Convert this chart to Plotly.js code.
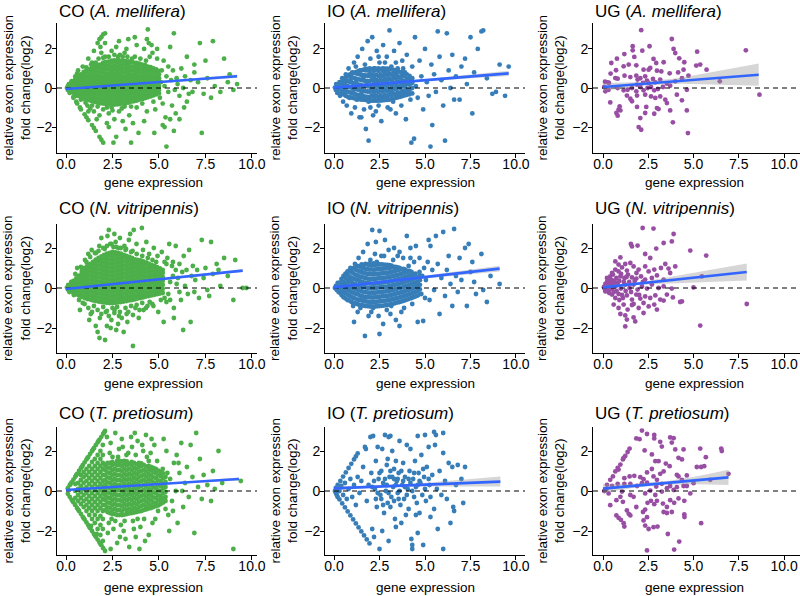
<!DOCTYPE html>
<html><head><meta charset="utf-8">
<script src="https://cdn.plot.ly/plotly-3.0.1.min.js"></script>
<style>html,body{margin:0;padding:0;background:#fff}#chart{width:800px;height:596px}</style>
</head><body><div id="chart"></div>
<script>
// ---------- data ----------
const panelTitles = ["CO (<i>A. mellifera</i>)","IO (<i>A. mellifera</i>)","UG (<i>A. mellifera</i>)",
  "CO (<i>N. vitripennis</i>)","IO (<i>N. vitripennis</i>)","UG (<i>N. vitripennis</i>)",
  "CO (<i>T. pretiosum</i>)","IO (<i>T. pretiosum</i>)","UG (<i>T. pretiosum</i>)"];
const xTickVals = [0,2.5,5,7.5,10];
const yTickVals = [-2,0,2];
const xTitle = "gene expression";
const yTitle = "relative exon expression<br>fold change(log2)";

// scattered points [expression, fold change]
const coAm = [[0.05,0],[0.1,0.1],[0.1,-0.1],[0.15,0.2],[0.2,-0.2],[0.25,0.05],[0.3,-0.1],[0.35,0.25],[0.4,0.1],[0.45,-0.3],[0.5,0.4],[0.5,-0.1],[0.6,0.2],[0.6,-0.4],[0.7,0.5],[0.7,-0.2],[0.8,0.1],[0.8,-0.6],[0.9,0.6],[0.9,-0.3],
[0.2,0.15],[0.3,0.3],[0.4,-0.45],[0.5,0.6],[0.55,-0.7],[0.65,0.9],[0.75,-1.0],[0.85,0.3],[0.95,-0.15],[0.95,0.45],
[0.2,-0.25],[0.4,-0.5],[0.6,-0.8],[0.8,-1.1],[1.0,-1.35],[1.2,-1.65],[1.4,-1.9],[1.6,-2.2],[1.8,-2.5],[2.0,-2.8],[1.1,-1.5],[1.5,-2.05],[1.9,-2.65],
[0.3,0.35],[0.6,0.75],[0.9,1.1],[1.2,1.5],[1.5,1.9],[1.7,2.3],[1.9,2.6],[2.0,2.75],[2.1,2.8],[1.8,2.5],
[1.05,-0.75],[1.1,1.05],[1.15,-0.9],[1.35,1.2],[1.4,-0.9],[1.5,-1.2],[1.4,1.3],[1.2,-1.2],
[1.6,1.3],[1.7,-0.95],[1.75,1.5],[1.8,-1.4],[1.9,1.8],[2.0,-1.1],[1.65,-1.6],[1.85,2.1],
[2.1,1.6],[2.2,-1.0],[2.3,1.6],[2.3,-1.3],[2.45,1.9],[2.1,2.3],[2.3,-2.0],[2.2,-1.8],[2.45,-1.0],
[2.6,1.7],[2.7,2.1],[2.85,-1.2],[2.9,1.7],[2.6,-1.6],[2.7,-2.5],[2.55,-2.8],[2.85,2.4],
[3.05,1.6],[3.15,-0.95],[3.25,2.0],[3.3,1.6],[3.4,-1.4],[3.05,-1.7],[3.2,-2.1],[3.5,-2.8],[3.35,2.5],[3.15,1.8],
[3.55,1.5],[3.7,1.6],[3.8,-1.0],[3.8,2.2],[4.0,1.5],[3.6,-1.8],[3.9,-2.3],[3.7,2.6],
[4.1,-0.8],[4.2,2.0],[4.3,1.4],[4.35,-1.2],[4.4,3.0],[4.5,1.6],[4.2,-1.7],[4.35,2.5],[4.45,2.3],
[4.65,1.8],[4.7,-0.7],[4.8,-1.1],[4.9,1.5],[4.6,2.2],[4.75,-2.3],[4.9,2.0],[2.5,-1.15],[3.0,-1.05],[3.5,-0.95],[1.3,-1.05],[2.0,1.55],[2.8,1.6],
[5.05,-0.5],[5.1,0.3],[5.15,0.9],[5.2,-0.8],[5.25,1.4],[5.3,0.1],[5.35,-1.5],[5.4,0.6],[5.4,-3.0],[5.5,1.1],[5.5,-0.2],[5.6,2.1],[5.65,0.4],[5.7,-0.9],[5.75,0.9],[5.8,2.8],[5.85,-0.1],[5.9,-1.3],[5.95,0.5],[5.3,-2.0],[5.2,-1.9],[5.6,-1.6],[5.8,-2.2],
[6.0,0.2],[6.1,-0.4],[6.2,1.0],[6.3,0.0],[6.35,-1.0],[6.4,0.6],[6.5,1.6],[6.6,-0.3],[6.7,0.4],[6.8,-0.2],[6.9,1.2],[6.1,-1.6],[6.5,-0.7],[6.9,0.8],
[7.1,0.3],[7.2,2.3],[7.3,-2.3],[7.4,-0.3],[7.5,1.4],[7.6,0.5],[7.9,2.4],[8.0,0.1],[8.3,-0.2],[8.5,1.5],[8.7,0.3],[9.0,-0.1],[9.2,0.2],[7.8,-0.5],[8.8,0.7]];
// dense core: [expression, [fold changes at that expression]]
const coAmCore = [[0.35,[-0.2,0.0,0.2,0.3]],[0.5,[-0.3,-0.1,0.1,0.3,0.45]],[0.65,[-0.4,-0.2,0.0,0.2,0.4,0.58]],[0.8,[-0.48,-0.3,-0.1,0.1,0.3,0.5,0.7]],
[0.95,[-0.54,-0.35,-0.15,0.05,0.25,0.45,0.65,0.82]],[1.1,[-0.6,-0.4,-0.2,0.0,0.2,0.4,0.6,0.8,0.92]],[1.25,[-0.63,-0.45,-0.25,-0.05,0.15,0.35,0.55,0.75,0.95]],
[1.4,[-0.68,-0.5,-0.3,-0.1,0.1,0.3,0.5,0.7,0.9,1.05]],[1.55,[-0.72,-0.55,-0.35,-0.15,0.05,0.25,0.45,0.65,0.85,1.05,1.12]],[1.7,[-0.75,-0.55,-0.35,-0.15,0.05,0.25,0.45,0.65,0.85,1.05,1.18]],
[1.85,[-0.78,-0.6,-0.4,-0.2,0.0,0.2,0.4,0.6,0.8,1.0,1.2]],[2.0,[-0.8,-0.6,-0.4,-0.2,0.0,0.2,0.4,0.6,0.8,1.0,1.2,1.3]],[2.15,[-0.82,-0.65,-0.45,-0.25,-0.05,0.15,0.35,0.55,0.75,0.95,1.15,1.34]],
[2.3,[-0.84,-0.65,-0.45,-0.25,-0.05,0.15,0.35,0.55,0.75,0.95,1.15,1.35]],[2.45,[-0.85,-0.7,-0.5,-0.3,-0.1,0.1,0.3,0.5,0.7,0.9,1.1,1.3,1.4]],[2.6,[-0.85,-0.65,-0.45,-0.25,-0.05,0.15,0.35,0.55,0.75,0.95,1.15,1.35,1.42]],
[2.75,[-0.84,-0.7,-0.5,-0.3,-0.1,0.1,0.3,0.5,0.7,0.9,1.1,1.3,1.42]],[2.9,[-0.82,-0.65,-0.45,-0.25,-0.05,0.15,0.35,0.55,0.75,0.95,1.15,1.35,1.4]],[3.05,[-0.8,-0.6,-0.4,-0.2,0.0,0.2,0.4,0.6,0.8,1.0,1.2,1.4]],
[3.2,[-0.78,-0.6,-0.4,-0.2,0.0,0.2,0.4,0.6,0.8,1.0,1.2,1.38]],[3.35,[-0.75,-0.55,-0.35,-0.15,0.05,0.25,0.45,0.65,0.85,1.05,1.25,1.36]],[3.5,[-0.7,-0.5,-0.3,-0.1,0.1,0.3,0.5,0.7,0.9,1.1,1.3,1.35]],
[3.65,[-0.68,-0.5,-0.3,-0.1,0.1,0.3,0.5,0.7,0.9,1.1,1.3]],[3.8,[-0.65,-0.45,-0.25,-0.05,0.15,0.35,0.55,0.75,0.95,1.15,1.28]],[3.95,[-0.6,-0.4,-0.2,0.0,0.2,0.4,0.6,0.8,1.0,1.2,1.25]],
[4.1,[-0.57,-0.4,-0.2,0.0,0.2,0.4,0.6,0.8,1.0,1.2]],[4.25,[-0.52,-0.35,-0.15,0.05,0.25,0.45,0.65,0.85,1.05,1.17]],[4.4,[-0.48,-0.3,-0.1,0.1,0.3,0.5,0.7,0.9,1.1]],
[4.55,[-0.43,-0.25,-0.05,0.15,0.35,0.55,0.75,0.95,1.07]],[4.7,[-0.38,-0.2,0.0,0.2,0.4,0.6,0.8,1.0]],[4.85,[-0.33,-0.15,0.05,0.25,0.45,0.65,0.85,0.95]],[5.0,[-0.28,-0.1,0.1,0.3,0.5,0.7,0.88]]];

const ioAm = [[0.05,0.02],[0.1,-0.1],[0.12,0.2],[0.18,-0.25],[0.22,0.1],[0.25,-0.05],[0.3,0.3],[0.33,-0.4],[0.38,0.15],[0.42,-0.15],[0.45,0.5],[0.5,-0.7],[0.55,0.25],[0.6,-0.3],[0.65,0.7],[0.7,-0.9],[0.75,0.1],[0.8,1.0],[0.85,-0.5],[0.9,0.4],[0.95,-1.3],[1.0,0.8],[1.05,-0.2],[1.1,1.3],[1.15,-1.0],[1.2,0.3],[1.25,-0.6],[1.3,1.6],[1.35,0.0],[1.4,-1.5],[1.45,0.9],[1.5,-0.3],[1.55,2.0],[1.6,0.5],[1.65,-1.1],[1.7,1.2],[1.75,-2.1],[1.8,0.2],[1.85,2.4],[1.9,-0.7],[1.95,0.7],[1.9,-2.7],[2.0,1.5],[2.05,-0.1],[2.1,2.6],[2.15,-1.4],[2.2,0.5],[2.25,1.0],[2.3,-0.4],[2.35,1.9],[2.4,0.2],[2.45,-0.9],[2.5,1.3],[2.55,0.6],[2.6,-1.7],[2.65,0.0],[2.7,2.2],[2.75,0.9],[2.8,-0.5],[2.85,0.4],[2.9,1.6],[2.95,-1.0],[3.0,0.7],[3.05,2.95],[3.1,-0.2],[3.15,1.1],[3.2,0.3],[3.25,-0.7],[3.3,1.9],[3.35,0.6],[3.4,-1.3],[3.45,0.1],[3.5,1.0],[3.55,-0.4],[3.6,2.3],[3.65,0.5],[3.7,-0.9],[3.75,1.4],[3.8,0.2],[3.85,-0.2],[3.9,0.8],[3.95,-1.6],[4.0,1.7],[4.1,0.4],[4.2,-0.6],[4.25,-2.8],[4.3,1.1],[4.4,-2.6],[4.45,2.6],[4.5,0.1],[4.6,-0.5],[4.7,1.4],[4.8,0.6],[4.9,-1.1],[5.0,2.0],[5.1,0.3],[5.2,-0.4],[5.3,-3.0],[5.35,1.2],[5.4,-1.9],[5.5,0.7],[5.6,-0.2],[5.7,2.9],[5.8,1.6],[5.9,0.4],[6.0,-0.9],[6.1,-2.7],[6.2,2.8],[6.3,0.9],[6.4,0.0],[6.5,1.7],[6.6,-0.6],[6.7,0.6],[6.9,-0.6],[7.0,1.1],[7.2,1.5],[7.3,0.2],[7.5,2.6],[7.6,-1.3],[7.7,0.8],[7.9,2.0],[8.1,2.9],[8.2,2.95],[8.4,0.5],[8.7,-0.3],[8.9,-0.2],[9.1,1.2],[9.4,-0.4],[9.6,1.1],
[2.45,1.6],[2.0,-1.0],[1.2,1.1],[3.8,1.0],[4.0,-0.2],[1.5,-1.5],[2.3,-1.2],[3.1,-1.1],[2.8,1.3],[3.4,1.3]];
const ioAmCore = [[0.4,[-0.24,0.03,0.29]],[0.52,[-0.33,-0.06,0.21,0.44]],[0.64,[-0.4,-0.13,0.14,0.41,0.55]],[0.76,[-0.45,-0.19,0.08,0.35,0.62]],[0.88,[-0.48,-0.23,0.04,0.31,0.58,0.7]],
[1.0,[-0.5,-0.27,0.0,0.27,0.54,0.76]],[1.12,[-0.53,-0.3,-0.03,0.24,0.51,0.78]],[1.24,[-0.55,-0.34,-0.07,0.2,0.47,0.74,0.83]],[1.36,[-0.57,-0.37,-0.1,0.17,0.44,0.71,0.87]],[1.48,[-0.59,-0.4,-0.13,0.14,0.41,0.68,0.9]],
[1.6,[-0.6,-0.42,-0.15,0.12,0.39,0.66,0.93]],[1.72,[-0.61,-0.44,-0.17,0.1,0.37,0.64,0.91,0.96]],[1.84,[-0.63,-0.45,-0.18,0.09,0.36,0.63,0.9,0.98]],[1.96,[-0.64,-0.46,-0.19,0.08,0.35,0.62,0.89,1.0]],[2.08,[-0.65,-0.38,-0.11,0.16,0.43,0.7,0.97]],
[2.2,[-0.65,-0.47,-0.2,0.07,0.34,0.61,0.88,1.0]],[2.32,[-0.65,-0.39,-0.12,0.15,0.42,0.69,0.96]],[2.44,[-0.64,-0.47,-0.2,0.07,0.34,0.61,0.88,1.0]],[2.56,[-0.64,-0.38,-0.11,0.16,0.43,0.7,0.97]],[2.68,[-0.63,-0.46,-0.19,0.08,0.35,0.62,0.89,1.0]],
[2.8,[-0.62,-0.36,-0.09,0.18,0.45,0.72,0.99]],[2.92,[-0.61,-0.44,-0.17,0.1,0.37,0.64,0.91,0.99]],[3.04,[-0.6,-0.33,-0.06,0.21,0.48,0.75,0.98]],[3.16,[-0.57,-0.4,-0.13,0.14,0.41,0.68,0.95]],[3.28,[-0.54,-0.28,-0.01,0.26,0.53,0.8,0.93]],
[3.4,[-0.51,-0.34,-0.07,0.2,0.47,0.74,0.9]],[3.52,[-0.48,-0.22,0.05,0.32,0.59,0.86]],[3.64,[-0.45,-0.27,0.0,0.27,0.54,0.81]],[3.76,[-0.41,-0.15,0.12,0.39,0.66,0.8]],[3.88,[-0.38,-0.2,0.07,0.34,0.61,0.76]],
[4.0,[-0.35,-0.08,0.19,0.46,0.7]],[4.15,[-0.32,-0.1,0.17,0.44,0.62]],[4.3,[-0.28,0.0,0.27,0.5]]];

const ugAm = [[2.11,2.96],[1.64,2.14],[1.64,1.93],[1.18,1.74],[0.77,1.5],[0.46,1.28],[2.57,2.14],[2.17,1.91],[3.8,2.51],[3.9,2.0],[3.99,1.79],[7.89,1.93],[5.2,1.86],[1.73,1.59],[2.79,1.49],[2.94,1.28],[1.14,1.11],[1.42,1.2],[1.84,1.16],[2.24,0.94],[2.61,1.03],[2.98,0.89],[3.35,1.32],[4.21,1.52],[4.49,1.32],[5.37,1.2],[5.15,1.15],[5.72,0.94],[4.45,0.94],[4.15,0.8],[3.68,0.75],[3.22,0.85],[0.72,0.91],[0.42,0.74],[0.11,0.32],[0.26,0.29],[0.33,0.26],[0.68,0.51],[0.81,0.48],[1.19,0.63],[1.51,0.56],[1.84,0.63],[1.91,0.43],[2.06,0.5],[2.33,0.6],[2.43,0.38],[2.52,0.26],[2.76,0.46],[2.89,0.29],[3.16,0.43],[3.53,0.22],[3.99,0.34],[4.36,0.5],[4.72,0.63],[6.45,0.34],[0.07,0.05],[0.18,-0.05],[0.13,-0.17],[0.31,-0.09],[0.81,0.0],[1.14,-0.12],[1.36,-0.09],[1.6,0.0],[1.84,-0.17],[2.06,0.05],[2.24,-0.12],[2.46,0.0],[2.65,0.05],[2.83,-0.12],[3.03,-0.05],[1.88,-0.39],[2.33,-0.34],[2.65,-0.43],[2.89,-0.51],[3.16,-0.43],[3.44,-0.6],[4.08,-0.34],[4.36,-0.63],[0.4,-0.74],[0.92,-0.94],[0.86,-1.11],[0.96,-1.15],[0.74,-1.28],[0.81,-1.42],[1.88,-0.97],[2.39,-0.97],[2.98,-1.03],[3.07,-1.08],[2.33,-1.28],[2.83,-1.32],[3.71,-1.15],[4.63,-1.15],[2.06,-1.54],[3.86,-1.76],[1.97,-2.0],[2.11,-2.14],[4.69,-2.31],[8.64,-0.34],[1.6,-0.68],[1.51,-0.55],[1.32,-0.39],[3.53,-0.77],[1.88,0.17],[2.21,0.26],[3.31,0.05],[3.71,0.12],[4.63,-0.09],[2.52,0.94]];
const ugAmCore = [];

const coNv = [[0.05,0.02],[0.1,-0.08],[0.12,0.15],[0.18,-0.2],[0.22,0.1],[0.28,0.3],[0.3,-0.12],[0.35,0.05],[0.42,-0.35],[0.5,0.7],[0.8,1.05],[0.7,-0.6],[0.9,-0.75],
[0.6,1.0],[0.75,-1.1],[1.02,1.4],[1.2,1.7],[1.33,-1.3],[1.25,-1.6],[1.38,1.9],[1.61,1.75],[1.79,2.1],[1.82,-1.5],[1.8,-2.5],[1.7,-2.2],[1.6,-1.9],[1.9,2.5],
[2.08,1.95],[2.14,-1.2],[2.23,2.6],[2.38,2.2],[2.44,-1.6],[2.1,-2.6],[2.3,2.9],[2.4,-2.0],[2.2,-1.9],
[2.55,2.05],[2.61,-1.1],[2.67,2.3],[2.82,2.0],[2.85,-1.4],[2.6,2.7],[2.8,-1.8],[2.7,-2.1],[2.9,2.5],
[3.14,2.1],[3.26,-1.3],[3.23,1.95],[3.38,2.4],[3.3,-1.7],[3.1,-2.2],[3.45,2.7],
[3.58,1.85],[3.6,-2.9],[3.64,2.9],[3.73,-1.0],[3.79,2.2],[3.91,-1.5],[4.08,3.0],[4.14,1.9],[4.17,-1.1],[4.32,2.3],[4.38,-0.9],[4.47,1.7],
[4.64,-0.8],[4.72,2.0],[4.92,1.6],[4.96,-1.2],
[1.0,-0.8],[1.2,-1.0],[1.4,-1.2],[1.5,-0.9],[1.7,-1.1],[1.9,-1.3],[2.0,-0.95],[2.2,-1.15],[2.3,-1.4],[2.5,-1.0],[2.6,-1.25],[2.75,-0.95],[2.9,-1.2],[3.0,-1.5],[3.2,-1.0],[3.35,-1.2],[3.5,-0.9],[3.6,-1.35],[3.8,-0.85],[3.95,-1.1],[4.1,-0.75],[4.3,-1.0],[4.5,-0.7],[4.7,-0.9],
[1.1,1.3],[1.3,1.55],[1.55,1.75],[1.75,1.85],[2.0,2.0],[2.2,2.1],[2.45,2.2],[2.7,2.05],[2.95,2.0],[3.2,1.9],[3.5,1.8],[3.8,1.7],[4.1,1.6],[4.4,1.5],[4.65,1.4],[4.85,1.3],
[5.05,0.9],[5.1,-0.6],[5.15,1.8],[5.25,-1.7],[5.3,1.3],[5.4,-0.7],[5.45,1.5],[5.55,2.2],[5.6,-0.6],[5.75,1.3],[5.8,-1.0],[5.9,2.1],[5.8,-1.5],[5.3,-0.5],[5.5,-0.3],[5.7,1.1],[5.9,0.9],[6.1,-0.2],[5.4,1.2],[5.6,0.3],[5.75,0.6],[5.95,0.2],
[6.02,0.5],[6.1,1.2],[6.18,-0.6],[6.25,0.8],[6.3,-2.1],[6.33,1.6],[6.4,0.1],[6.48,0.9],[6.55,-0.3],[6.62,1.9],[6.7,-1.7],[6.75,0.6],[6.82,1.1],[6.9,-0.2],[6.95,0.4],
[7.05,0.9],[7.15,-0.5],[7.3,2.4],[7.4,0.5],[7.5,1.0],[7.6,-0.1],[7.8,2.3],[7.9,0.7],[8.1,1.2],[8.3,0.1],[8.5,1.5],[8.7,0.6],[9.0,-0.6],[9.1,1.4],[9.5,0.0],[9.7,0.0],[7.7,-0.4],[8.2,0.9]];
const coNvCore = [[0.4,[-0.25,-0.05,0.15,0.35]],[0.55,[-0.32,-0.12,0.08,0.28,0.48]],[0.7,[-0.38,-0.18,0.02,0.22,0.42,0.62]],[0.85,[-0.44,-0.24,-0.04,0.16,0.36,0.56,0.76,0.86]],
[1.0,[-0.5,-0.3,-0.1,0.1,0.3,0.5,0.7,0.9,1.0]],[1.15,[-0.55,-0.35,-0.15,0.05,0.25,0.45,0.65,0.85,1.05,1.12]],[1.3,[-0.58,-0.38,-0.18,0.02,0.22,0.42,0.62,0.82,1.02,1.2]],
[1.45,[-0.62,-0.42,-0.22,-0.02,0.18,0.38,0.58,0.78,0.98,1.18,1.3]],[1.6,[-0.65,-0.45,-0.25,-0.05,0.15,0.35,0.55,0.75,0.95,1.15,1.35,1.42]],[1.75,[-0.68,-0.48,-0.28,-0.08,0.12,0.32,0.52,0.72,0.92,1.12,1.32,1.5]],
[1.9,[-0.7,-0.5,-0.3,-0.1,0.1,0.3,0.5,0.7,0.9,1.1,1.3,1.5,1.58]],[2.05,[-0.72,-0.52,-0.32,-0.12,0.08,0.28,0.48,0.68,0.88,1.08,1.28,1.48,1.65]],[2.2,[-0.74,-0.55,-0.35,-0.15,0.05,0.25,0.45,0.65,0.85,1.05,1.25,1.45,1.65,1.72]],
[2.35,[-0.75,-0.58,-0.38,-0.18,0.02,0.22,0.42,0.62,0.82,1.02,1.22,1.42,1.62,1.76]],[2.5,[-0.75,-0.55,-0.35,-0.15,0.05,0.25,0.45,0.65,0.85,1.05,1.25,1.45,1.65,1.8]],[2.65,[-0.74,-0.58,-0.38,-0.18,0.02,0.22,0.42,0.62,0.82,1.02,1.22,1.42,1.62,1.78]],
[2.8,[-0.72,-0.52,-0.32,-0.12,0.08,0.28,0.48,0.68,0.88,1.08,1.28,1.48,1.68,1.75]],[2.95,[-0.7,-0.55,-0.35,-0.15,0.05,0.25,0.45,0.65,0.85,1.05,1.25,1.45,1.65,1.72]],[3.1,[-0.68,-0.48,-0.28,-0.08,0.12,0.32,0.52,0.72,0.92,1.12,1.32,1.52,1.66]],
[3.25,[-0.65,-0.5,-0.3,-0.1,0.1,0.3,0.5,0.7,0.9,1.1,1.3,1.5,1.6]],[3.4,[-0.62,-0.42,-0.22,-0.02,0.18,0.38,0.58,0.78,0.98,1.18,1.38,1.55]],[3.55,[-0.6,-0.45,-0.25,-0.05,0.15,0.35,0.55,0.75,0.95,1.15,1.35,1.5]],
[3.7,[-0.57,-0.37,-0.17,0.03,0.23,0.43,0.63,0.83,1.03,1.23,1.43]],[3.85,[-0.53,-0.4,-0.2,0.0,0.2,0.4,0.6,0.8,1.0,1.2,1.4]],[4.0,[-0.5,-0.3,-0.1,0.1,0.3,0.5,0.7,0.9,1.1,1.3,1.38]],
[4.15,[-0.47,-0.35,-0.15,0.05,0.25,0.45,0.65,0.85,1.05,1.25,1.33]],[4.3,[-0.43,-0.23,-0.03,0.17,0.37,0.57,0.77,0.97,1.17,1.28]],[4.45,[-0.4,-0.25,-0.05,0.15,0.35,0.55,0.75,0.95,1.15,1.22]],
[4.6,[-0.37,-0.17,0.03,0.23,0.43,0.63,0.83,1.03,1.16]],[4.75,[-0.34,-0.2,0.0,0.2,0.4,0.6,0.8,1.0,1.1]],[4.9,[-0.31,-0.11,0.09,0.29,0.49,0.69,0.89,1.04]],
[5.05,[-0.28,-0.15,0.05,0.25,0.45,0.65,0.85,0.98]],[5.2,[-0.25,-0.05,0.15,0.35,0.55,0.75,0.9]]];

const ioNv = [[0.05,0.0],[0.1,0.1],[0.15,-0.1],[0.2,0.25],[0.25,-0.2],[0.9,1.0],[1.05,-0.9],[1.1,-1.7],[1.15,1.2],[1.35,1.5],[1.45,-1.0],[1.6,1.8],[1.7,-2.4],[1.85,2.2],[2.0,1.4],[2.05,-1.2],[2.1,2.9],[2.25,1.7],[2.3,2.3],[2.45,-1.4],[2.5,2.85],[2.5,-2.3],[2.6,1.6],[2.7,-1.8],[2.8,2.4],[3.0,1.9],[3.1,-1.3],[3.25,1.4],[3.3,2.0],[3.4,-1.6],[3.6,-1.9],[3.6,1.8],[3.8,1.5],[3.85,-1.0],[4.0,2.6],[4.1,1.1],[4.2,2.0],[4.25,0.5],[4.3,-0.8],[4.4,1.3],[4.5,2.1],[4.55,0.2],[4.6,-1.7],[4.7,0.8],[4.8,-0.3],[4.9,-1.65],[4.95,1.0],[5.05,0.4],[5.2,2.4],[5.25,-0.6],[5.3,2.1],[5.4,0.9],[5.5,-0.1],[5.6,2.6],[5.7,1.2],[5.8,-1.3],[5.9,0.5],[6.0,2.8],[6.1,-0.4],[6.2,0.9],[6.3,1.6],[6.4,0.2],[6.5,-0.9],[6.6,2.95],[6.7,0.6],[6.8,-0.2],[6.9,1.5],[7.0,0.4],[7.2,2.0],[7.3,-0.9],[7.4,2.2],[7.5,0.8],[7.6,1.3],[7.7,0.3],[7.8,-0.3],[8.1,1.7],[8.2,-0.1],[8.4,-0.7],[8.6,0.6],[9.1,0.2],
[2.35,1.3],[2.75,1.6],[1.95,1.2],[2.15,-1.0],[3.15,-0.9],[4.7,1.5],[5.0,-0.5],[5.15,1.3],[4.85,0.6],[3.5,1.6],[1.3,-1.2],[1.9,-1.4],[2.9,-1.1],[3.7,-1.2],[4.2,1.5]];
const ioNvCore = [[0.3,[-0.22,0.04,0.27]],[0.41,[-0.35,-0.08,0.16,0.45]],[0.52,[-0.46,-0.2,0.09,0.31,0.6]],[0.63,[-0.52,-0.27,-0.02,0.24,0.5,0.72]],[0.74,[-0.6,-0.33,-0.1,0.18,0.41,0.69,0.83]],
[0.85,[-0.63,-0.4,-0.14,0.07,0.35,0.57,0.88]],[0.96,[-0.7,-0.44,-0.21,0.03,0.29,0.52,0.78,0.95]],[1.07,[-0.74,-0.5,-0.24,0.0,0.22,0.47,0.73,0.99]],[1.18,[-0.77,-0.53,-0.29,-0.06,0.19,0.43,0.66,0.92,1.05]],
[1.29,[-0.81,-0.58,-0.31,-0.09,0.14,0.4,0.63,0.87,1.1]],[1.4,[-0.84,-0.6,-0.37,-0.12,0.1,0.35,0.58,0.83,1.07]],[1.51,[-0.86,-0.62,-0.4,-0.16,0.08,0.31,0.55,0.8,1.02,1.18]],[1.62,[-0.88,-0.65,-0.43,-0.19,0.06,0.28,0.52,0.76,0.99,1.15]],
[1.73,[-0.9,-0.67,-0.45,-0.21,0.03,0.26,0.5,0.73,0.96,1.2]],[1.84,[-0.9,-0.68,-0.44,-0.22,0.01,0.25,0.47,0.71,0.94,1.17]],[1.95,[-0.92,-0.7,-0.46,-0.24,0.0,0.23,0.46,0.7,0.92,1.16,1.22]],
[2.06,[-0.92,-0.69,-0.47,-0.23,-0.01,0.22,0.46,0.69,0.93,1.15]],[2.17,[-0.93,-0.71,-0.48,-0.25,-0.02,0.21,0.45,0.68,0.91,1.14,1.23]],[2.28,[-0.92,-0.7,-0.46,-0.23,0.0,0.23,0.46,0.7,0.93,1.16]],
[2.39,[-0.91,-0.68,-0.45,-0.22,0.02,0.25,0.48,0.71,0.94,1.17,1.22]],[2.5,[-0.9,-0.67,-0.44,-0.21,0.03,0.26,0.49,0.72,0.95,1.18]],[2.61,[-0.89,-0.66,-0.42,-0.19,0.04,0.27,0.5,0.73,0.96,1.18]],
[2.72,[-0.88,-0.64,-0.41,-0.18,0.05,0.28,0.51,0.74,0.97,1.17]],[2.83,[-0.86,-0.63,-0.4,-0.17,0.06,0.29,0.52,0.75,0.98,1.16]],[2.94,[-0.85,-0.62,-0.39,-0.16,0.07,0.3,0.53,0.76,0.99,1.15]],
[3.05,[-0.83,-0.6,-0.37,-0.14,0.09,0.32,0.55,0.78,1.0,1.14]],[3.16,[-0.8,-0.57,-0.34,-0.11,0.12,0.35,0.58,0.81,1.04,1.12]],[3.27,[-0.78,-0.55,-0.32,-0.09,0.14,0.37,0.6,0.83,1.06]],
[3.38,[-0.75,-0.52,-0.29,-0.06,0.17,0.4,0.63,0.86,1.05]],[3.49,[-0.72,-0.49,-0.26,-0.03,0.2,0.43,0.66,0.89,1.03]],[3.6,[-0.7,-0.47,-0.24,-0.01,0.22,0.45,0.68,0.91,1.0]],
[3.71,[-0.67,-0.44,-0.21,0.02,0.25,0.48,0.71,0.94]],[3.82,[-0.64,-0.41,-0.18,0.05,0.28,0.51,0.74,0.95]],[3.93,[-0.6,-0.37,-0.14,0.09,0.32,0.55,0.78,0.92]],
[4.04,[-0.57,-0.34,-0.11,0.12,0.35,0.58,0.81]],[4.15,[-0.53,-0.3,-0.07,0.16,0.39,0.62,0.85]],[4.26,[-0.5,-0.27,-0.04,0.19,0.42,0.65,0.8]],
[4.37,[-0.46,-0.23,0.0,0.23,0.46,0.69]],[4.48,[-0.42,-0.19,0.04,0.27,0.5,0.72]],[4.6,[-0.38,-0.15,0.08,0.31,0.54]],[4.72,[-0.3,-0.07,0.16,0.39,0.62]]];

const ugNv = [[2.19,3.0],[2.79,2.97],[3.9,2.7],[3.8,2.33],[1.54,2.2],[1.6,2.08],[1.91,2.12],[3.35,2.25],[2.94,1.97],[4.82,1.87],[5.7,1.62],[0.96,1.53],[1.23,1.2],[1.51,1.25],[2.33,1.7],[2.61,1.5],[3.44,1.2],[3.99,1.08],[0.68,0.92],[0.86,0.83],[1.05,1.03],[1.32,0.87],[1.69,1.08],[1.97,0.92],[2.33,1.08],[2.52,0.83],[2.83,0.92],[3.2,1.0],[3.62,0.97],[0.4,0.58],[0.55,0.67],[0.74,0.5],[0.96,0.58],[1.18,0.5],[1.38,0.67],[1.6,0.53],[1.84,0.47],[2.1,0.58],[2.33,0.42],[2.7,0.5],[2.98,0.63],[3.35,0.42],[5.46,0.58],[0.13,0.2],[0.22,0.3],[0.31,0.13],[0.44,0.25],[0.18,-0.05],[0.28,-0.17],[0.4,0.0],[0.59,0.08],[0.81,0.2],[0.99,-0.03],[1.23,0.17],[1.47,0.0],[1.69,0.17],[1.91,-0.08],[2.15,0.08],[2.43,-0.03],[2.7,0.17],[3.07,0.0],[3.35,0.08],[3.8,-0.03],[5.0,0.03],[0.5,-0.33],[0.68,-0.5],[0.86,-0.3],[1.1,-0.5],[1.32,-0.37],[1.6,-0.58],[1.84,-0.33],[2.06,-0.53],[2.33,-0.42],[2.61,-0.5],[2.89,-0.37],[3.16,-0.58],[3.53,-0.33],[3.86,-0.47],[4.36,-0.67],[0.59,-0.83],[0.86,-1.0],[1.14,-0.83],[1.36,-1.08],[1.69,-0.8],[1.97,-1.0],[2.24,-0.75],[2.52,-0.92],[2.83,-0.83],[0.96,-1.3],[1.23,-1.37],[1.32,-1.58],[1.69,-1.47],[1.78,-1.67],[2.24,-1.25],[1.23,-1.92],[5.37,-1.88],[7.94,-0.8],[2.98,-1.08],[3.35,-0.63],[0.22,0.5],[0.31,0.42],[0.59,0.37],[0.5,0.75],[0.86,1.17],[0.68,1.33],[3.71,0.75],[4.26,-0.7],[0.13,-0.17],[0.07,0.03],[0.18,0.08],
[0.05,0.05],[0.1,-0.05],[0.15,0.15],[0.2,-0.1],[0.25,0.05],[0.3,0.22],[0.35,-0.25],[0.45,0.4],[0.5,-0.05],[0.55,0.2],[0.6,-0.2],[0.65,0.3],[0.7,0.1],[0.75,-0.15],[0.9,0.35],[1.0,0.7],[1.05,-0.35],[1.15,0.3],[1.25,-0.15],[1.45,0.3],[1.55,-0.2],[1.75,0.35],[1.85,0.75],[2.0,-0.35],[2.2,0.3],[1.3,0.55],[0.9,-0.6],[1.6,-0.85]];
const ugNvCore = [];

const coTp = [[0.1,0.14],[0.2,0.29],[0.3,0.43],[0.4,0.57],[0.5,0.71],[0.6,0.86],[0.7,1.0],[0.8,1.14],[0.9,1.29],[1.0,1.43],[1.1,1.57],[1.2,1.71],[1.3,1.86],[1.4,2.0],[1.5,2.14],[1.6,2.29],[1.7,2.43],[1.8,2.57],[1.9,2.71],[2.0,2.86],[2.1,3.0],[0.25,0.36],[0.55,0.79],[0.85,1.21],[1.15,1.64],[1.45,2.07],[1.75,2.5],[2.05,2.93],
[0.1,-0.14],[0.2,-0.29],[0.3,-0.43],[0.4,-0.57],[0.5,-0.71],[0.6,-0.86],[0.7,-1.0],[0.8,-1.14],[0.9,-1.29],[1.0,-1.43],[1.1,-1.57],[1.2,-1.71],[1.3,-1.86],[1.4,-2.0],[1.5,-2.14],[1.6,-2.29],[1.7,-2.43],[1.8,-2.57],[1.9,-2.71],[2.0,-2.86],[2.1,-3.0],[0.35,-0.5],[0.65,-0.93],[0.95,-1.36],[1.25,-1.79],[1.55,-2.21],[1.85,-2.64],[1.35,-1.75],[1.65,-2.15],
[2.25,-2.1],[2.4,2.4],[2.45,-1.4],[2.65,2.9],[2.75,-2.6],[2.8,1.7],[2.95,-1.7],[3.05,2.2],[3.2,-2.4],[3.35,1.9],[3.5,2.7],[3.65,-1.9],[3.75,1.8],[3.85,2.5],[3.95,-2.9],[4.15,2.0],[4.2,-1.4],[4.3,2.8],[4.45,-2.2],[4.55,1.9],[4.65,-1.6],[4.75,2.3],[4.9,1.5],[4.95,-1.0],
[2.35,1.9],[2.65,-1.5],[3.25,1.8],[3.85,-1.4],[4.45,1.5],[2.9,-2.3],[3.4,-2.8],[3.75,-2.3],[4.25,-2.5],[2.4,-2.9],[2.2,2.7],[3.0,2.6],[3.7,2.9],[4.6,2.6],[3.15,-1.5],[4.0,-1.8],[2.55,-1.9],[3.55,2.2],[4.35,1.7],[2.5,1.7],[3.1,-2.0],[2.85,2.1],[3.6,-1.5],[4.1,2.3],[2.3,-1.6],[4.8,-1.4],
[5.1,-0.4],[5.2,1.1],[5.3,0.2],[5.4,2.0],[5.5,-1.2],[5.6,0.6],[5.7,-0.5],[5.8,1.4],[5.9,0.0],[6.0,-1.6],[6.1,0.9],[6.2,2.4],[6.3,-0.8],[6.4,0.4],[6.5,1.2],[6.6,-0.3],[6.7,2.3],[6.8,0.7],[6.9,-2.1],[7.0,2.9],[7.1,0.2],[7.2,1.6],[7.3,-0.4],[7.4,0.8],[5.25,2.6],[5.75,-1.0],[6.25,0.0],[5.45,0.9],[5.95,1.8],[5.55,-2.0],[6.05,1.4],[5.35,-0.9],
[7.6,0.3],[7.8,-0.5],[8.0,0.1],[8.2,2.0],[8.4,0.4],[9.0,-2.9],[9.4,0.5],[7.9,1.0]];
const coTpCore = [[0.5,[-0.35,0.0,0.35]],[0.65,[-0.5,-0.2,0.1,0.4]],[0.8,[-0.65,-0.35,-0.05,0.25,0.55,0.8]],[0.95,[-0.8,-0.5,-0.2,0.1,0.4,0.7,0.95]],[1.1,[-1.0,-0.7,-0.4,-0.1,0.2,0.5,0.8,1.1]],
[1.25,[-1.2,-0.85,-0.55,-0.25,0.05,0.35,0.65,0.95,1.25]],[1.4,[-1.4,-1.0,-0.7,-0.4,-0.1,0.2,0.5,0.8,1.1,1.45]],[1.55,[-1.6,-1.2,-0.85,-0.55,-0.25,0.05,0.35,0.65,0.95,1.25,1.6]],
[1.7,[-1.9,-1.4,-1.0,-0.7,-0.4,-0.1,0.2,0.5,0.8,1.1,1.4,1.8]],[1.85,[-2.2,-1.7,-1.25,-0.85,-0.55,-0.25,0.05,0.35,0.65,0.95,1.25,1.6,2.0]],[1.98,[-2.5,-1.9,-1.4,-1.0,-0.7,-0.4,-0.1,0.2,0.5,0.8,1.1,1.4,1.8,2.3]],
[2.1,[-0.95,-0.7,-0.45,-0.2,0.05,0.3,0.55,0.8,1.05,1.3]],[2.23,[-1.05,-0.82,-0.57,-0.32,-0.07,0.18,0.43,0.68,0.93,1.18,1.4]],[2.36,[-1.1,-0.85,-0.6,-0.35,-0.1,0.15,0.4,0.65,0.9,1.15,1.4]],
[2.49,[-1.15,-0.95,-0.7,-0.45,-0.2,0.05,0.3,0.55,0.8,1.05,1.3,1.45]],[2.62,[-1.15,-0.9,-0.65,-0.4,-0.15,0.1,0.35,0.6,0.85,1.1,1.35]],[2.75,[-1.2,-0.97,-0.72,-0.47,-0.22,0.03,0.28,0.53,0.78,1.03,1.28,1.5]],
[2.88,[-1.2,-0.95,-0.7,-0.45,-0.2,0.05,0.3,0.55,0.8,1.05,1.3,1.5]],[3.01,[-1.2,-1.0,-0.75,-0.5,-0.25,0.0,0.25,0.5,0.75,1.0,1.25,1.48]],[3.14,[-1.18,-0.9,-0.65,-0.4,-0.15,0.1,0.35,0.6,0.85,1.1,1.35,1.5]],
[3.27,[-1.15,-0.97,-0.72,-0.47,-0.22,0.03,0.28,0.53,0.78,1.03,1.28,1.48]],[3.4,[-1.12,-0.88,-0.63,-0.38,-0.13,0.12,0.37,0.62,0.87,1.12,1.37]],[3.53,[-1.1,-0.95,-0.7,-0.45,-0.2,0.05,0.3,0.55,0.8,1.05,1.3,1.45]],
[3.66,[-1.08,-0.85,-0.6,-0.35,-0.1,0.15,0.4,0.65,0.9,1.15,1.4]],[3.79,[-1.05,-0.92,-0.67,-0.42,-0.17,0.08,0.33,0.58,0.83,1.08,1.33]],[3.92,[-1.02,-0.8,-0.55,-0.3,-0.05,0.2,0.45,0.7,0.95,1.2,1.4]],
[4.05,[-1.0,-0.75,-0.5,-0.25,0.0,0.25,0.5,0.75,1.0,1.25,1.38]],[4.18,[-0.95,-0.7,-0.45,-0.2,0.05,0.3,0.55,0.8,1.05,1.3]],[4.31,[-0.92,-0.78,-0.53,-0.28,-0.03,0.22,0.47,0.72,0.97,1.22]],
[4.44,[-0.88,-0.65,-0.4,-0.15,0.1,0.35,0.6,0.85,1.1,1.25]],[4.57,[-0.85,-0.72,-0.47,-0.22,0.03,0.28,0.53,0.78,1.03,1.2]],[4.7,[-0.8,-0.57,-0.32,-0.07,0.18,0.43,0.68,0.93,1.15]],
[4.83,[-0.76,-0.6,-0.35,-0.1,0.15,0.4,0.65,0.9,1.1]],[4.96,[-0.72,-0.47,-0.22,0.03,0.28,0.53,0.78,1.02]],[5.09,[-0.65,-0.5,-0.25,0.0,0.25,0.5,0.75,0.95]],
[5.22,[-0.58,-0.35,-0.1,0.15,0.4,0.65,0.88]],[5.35,[-0.5,-0.3,-0.05,0.2,0.45,0.7]]];

const ioTp = [[0.1,0.15],[0.2,0.3],[0.35,0.5],[0.5,0.72],[0.65,0.93],[0.8,1.15],[0.95,1.36],[1.1,1.58],[1.2,1.73],[1.3,1.88],
[0.15,-0.2],[0.3,-0.42],[0.45,-0.62],[0.6,-0.82],[0.75,-1.02],[0.9,-1.22],[1.05,-1.42],[1.2,-1.62],[1.35,-1.82],[1.5,-2.02],[1.65,-2.22],[1.8,-2.42],[1.95,-2.62],
[0.05,0.0],[0.1,-0.1],[0.15,0.05],[0.2,-0.3],[0.25,0.2],[0.3,0.0],[0.4,0.25],[0.5,-0.2],[0.6,0.4],[0.7,-0.4],[0.8,0.1],[0.9,0.6],[1.0,-0.3],[1.1,0.3],[1.2,-0.7],[1.3,0.7],[1.4,-0.1],[1.5,0.5],
[1.6,1.2],[1.7,2.2],[1.75,2.1],[1.8,-0.5],[1.9,0.3],[2.0,2.7],[2.05,0.9],[2.1,-1.9],[2.15,2.75],[2.2,-2.3],[2.25,0.1],[2.3,1.5],[2.35,-0.8],[2.4,2.2],[2.45,0.6],[2.5,-2.9],[2.55,-0.2],[2.6,1.0],[2.65,2.1],[2.65,-2.0],[2.7,0.4],[2.75,-1.1],[2.8,2.8],[2.85,0.0],[2.9,1.3],[2.95,-0.6],[3.0,2.7],[3.0,-2.5],[3.05,0.7],[3.1,2.75],[3.15,-0.3],[3.2,2.0],[3.25,0.2],[3.3,1.1],[3.35,-1.4],[3.4,-1.8],[3.45,0.5],[3.5,-0.1],[3.55,0.9],[3.6,2.5],[3.65,-0.7],[3.7,-1.6],[3.75,0.3],[3.8,1.4],[3.85,-0.4],[3.9,0.7],[3.95,-1.2],[4.0,2.3],[4.05,0.1],[4.1,-0.9],[4.15,1.0],[4.2,2.1],[4.25,-2.4],[4.3,-2.7],[4.3,-2.9],[4.35,0.6],[4.4,-0.3],[4.45,1.5],[4.5,0.2],[4.55,-0.6],[4.6,2.75],[4.6,-2.1],[4.65,0.9],[4.7,-1.1],[4.75,0.4],[4.8,1.8],[4.85,-0.2],[4.9,-2.7],[4.95,0.7],[5.0,2.8],[5.05,-0.5],[5.1,1.2],[5.2,2.2],[5.25,0.3],[5.3,-1.3],[5.4,0.8],[5.5,2.95],[5.5,-0.9],[5.55,2.3],[5.6,2.8],[5.65,0.1],[5.7,-1.9],[5.8,1.0],[5.9,-0.2],[6.0,2.9],[6.0,1.9],[6.0,-2.9],[6.1,0.5],[6.2,-0.4],[6.3,1.4],[6.4,-1.6],[6.5,1.2],[6.55,-0.8],[6.6,-1.0],[6.7,0.3],[6.8,1.3],[7.0,0.6],[7.1,-0.6],[7.2,1.2],
[2.2,0.5],[2.6,-0.4],[2.8,0.6],[3.0,-0.1],[3.2,0.7],[3.4,0.3],[3.6,0.0],[3.8,0.5],[4.0,-0.2],[4.2,0.4],[4.4,0.9],[2.4,-0.1],[3.3,-0.5],[3.9,0.2],[4.6,0.3],[5.0,0.1],[2.9,0.3],[3.5,0.6],
[2.1,0.2],[2.5,0.9],[2.7,-0.7],[3.1,1.0],[3.3,0.6],[3.7,1.0],[4.1,0.6],[4.3,0.0],[4.7,0.5],[5.2,0.6],[3.1,-0.8],[3.55,-0.4],[2.3,-0.4],[4.9,1.1],[5.3,-0.3],[2.95,1.6],[3.4,1.5],[4.5,-1.2]];
const ioTpCore = [];

const ugTp = [[0.4,0.56],[0.55,0.73],[0.68,0.98],[0.81,1.15],[0.96,1.32],[1.1,1.58],[1.23,1.75],[1.36,1.95],[1.47,2.12],[0.86,1.07],[1.14,1.66],
[2.15,3.02],[2.43,2.85],[2.83,2.8],[2.83,2.63],[1.84,2.63],[2.02,2.59],[3.71,2.68],[3.9,2.64],[3.8,2.42],[3.16,2.46],[3.25,2.22],[2.3,2.03],[2.7,1.83],[2.89,1.49],[3.07,1.49],[3.99,2.08],[4.45,2.08],[4.17,1.66],[4.36,1.58],[5.37,2.12],[6.53,2.12],[6.56,2.0],[5.68,1.69],[5.42,1.2],[5.18,1.2],[5.59,1.24],[3.47,1.37],[3.68,1.24],[3.35,0.98],[3.16,0.86],[4.08,0.81],[4.63,0.78],[4.36,0.56],[2.43,0.93],[2.7,1.1],[2.79,0.73],[2.98,0.56],[1.47,0.73],[1.18,0.64],[1.73,0.76],[2.06,0.69],[2.24,0.59],[2.43,0.42],[0.22,0.31],[0.5,0.25],[0.81,0.36],[1.18,0.36],[1.51,0.36],[1.88,0.25],[2.15,0.39],[0.07,0.0],[0.18,0.08],[0.31,-0.12],[1.05,-0.03],[1.51,-0.2],[1.69,-0.29],[2.33,-0.12],[2.61,0.02],[2.89,-0.2],[3.25,-0.03],[3.53,0.14],[3.9,0.05],[4.08,0.19],[3.71,0.25],[4.45,0.25],[5.0,0.39],[5.92,0.56],[6.93,0.86],[0.4,-0.71],[0.74,-0.46],[0.96,-0.29],[1.1,-0.54],[0.74,-1.22],[0.86,-1.34],[0.99,-1.44],[1.14,-1.61],[1.18,-1.78],[1.32,-0.97],[1.42,-1.14],[1.51,-1.22],[1.84,-0.8],[2.21,-1.05],[2.33,-0.93],[2.46,-0.59],[2.65,-0.49],[2.83,-0.66],[2.98,-0.49],[3.31,-0.63],[3.53,-0.8],[3.71,-0.46],[3.93,-0.59],[4.17,-0.37],[4.49,-0.49],[4.49,-1.17],[4.5,-1.3],[2.24,-1.47],[2.33,-1.73],[2.52,-1.9],[2.43,-1.31],[2.79,-1.81],[3.01,-1.78],[3.53,-1.1],[3.35,-1.05],[3.8,-1.05],[3.58,-2.15],[4.21,-2.53],[3.93,-2.93],[2.43,-2.97],[5.42,-1.61],[3.25,0.36],[2.94,0.22],[4.17,0.73],[4.63,0.25],[4.82,-0.12]];
const ugTpCore = [];

const panelPoints = [coAm, ioAm, ugAm, coNv, ioNv, ugNv, coTp, ioTp, ugTp];
const panelCores = [coAmCore, ioAmCore, ugAmCore, coNvCore, ioNvCore, ugNvCore, coTpCore, ioTpCore, ugTpCore];

// smoother (fitted line and its confidence band) read per panel
const fitX = [[0,2.3,4.6,6.9,9.2],[0,2.4,4.8,7.2,9.6],[0,2.15,4.3,6.45,8.6],
  [0,2.4,4.8,7.1,9.5],[0,2.3,4.55,6.8,9.1],[0,2,4,6,7.94],
  [0,2.3,4.65,7,9.3],[0,2.3,4.57,6.85,9.14],[0,1.73,3.47,5.2,6.93]];
const fitY = [[-0.05,0.11,0.28,0.44,0.6],[0.02,0.2,0.38,0.57,0.75],[0.05,0.21,0.37,0.52,0.68],
  [-0.05,0.18,0.41,0.64,0.87],[0.03,0.27,0.5,0.74,0.97],[0.03,0.22,0.42,0.61,0.8],
  [0.05,0.19,0.33,0.46,0.6],[0.13,0.22,0.3,0.39,0.47],[0.12,0.26,0.4,0.54,0.68]];
const fitHalfBand = [[0.04,0.02,0.03,0.06,0.09],[0.06,0.04,0.05,0.09,0.14],[0.2,0.1,0.15,0.35,0.57],
  [0.03,0.02,0.03,0.05,0.07],[0.06,0.04,0.06,0.1,0.14],[0.08,0.06,0.18,0.31,0.42],
  [0.04,0.02,0.03,0.05,0.07],[0.1,0.05,0.07,0.15,0.25],[0.22,0.1,0.09,0.2,0.38]];

// ---------- layout geometry (pixels in an 800x596 page) ----------
const W = 800, H = 596;
const colPx = [[57,257],[325,525],[593,800]];
const rowPx = [[23,153],[224,353],[427,555]];
const colRanges = [[-0.484,10.27],[-0.495,10.495],[-0.552,10.88]];
const rowRanges = [[-3.33,3.33],[-3.25,3.2],[-3.2,3.2]];
const groupColors = ["#4DAF4A","#377EB8","#984EA3"];
const titleYPx = [11,209,413];
const xTitleYPx = [183,383,587];
const xTitleXPx = [153,425,694];
const yTitleXPx = [16.5,283.5,550.5];
const FONT = "Liberation Sans, Arial, sans-serif";

const traces = [];
const layout = {width:W, height:H, margin:{l:0,r:0,t:0,b:0}, paper_bgcolor:"#fff", plot_bgcolor:"rgba(0,0,0,0)",
  showlegend:false, font:{family:FONT, color:"#000"}, annotations:[]};

for (let i = 0; i < 9; i++) {
  const r = Math.floor(i/3), c = i % 3;
  const n = i === 0 ? "" : String(i+1);
  const xa = "x"+n, ya = "y"+n;
  const pts = panelCores[i].flatMap(col => col[1].map(v => [col[0], v])).concat(panelPoints[i]);
  traces.push({type:"scatter", mode:"markers", x:pts.map(p=>p[0]), y:pts.map(p=>p[1]), xaxis:xa, yaxis:ya,
    marker:{size:4.8, color:groupColors[c], line:{width:0}}, hoverinfo:"skip"});
  traces.push({type:"scatter", mode:"lines", x:colRanges[c], y:[0,0], xaxis:xa, yaxis:ya,
    line:{color:"#000", width:1.2, dash:"5px,4px"}, hoverinfo:"skip"});
  const fx = fitX[i], fy = fitY[i], hb = fitHalfBand[i];
  const hi = fy.map((v,k)=>v+hb[k]), lo = fy.map((v,k)=>v-hb[k]);
  traces.push({type:"scatter", mode:"lines", x:fx.concat(fx.slice().reverse()), y:hi.concat(lo.slice().reverse()),
    xaxis:xa, yaxis:ya, fill:"toself", fillcolor:"rgba(153,153,153,0.4)", line:{width:0, color:"rgba(0,0,0,0)"}, hoverinfo:"skip"});
  traces.push({type:"scatter", mode:"lines", x:[fx[0], fx[fx.length-1]], y:[fy[0], fy[fy.length-1]], xaxis:xa, yaxis:ya,
    line:{color:"#3366FF", width:2.6}, hoverinfo:"skip"});

  layout["xaxis"+n] = {domain:[colPx[c][0]/W, colPx[c][1]/W], range:colRanges[c], anchor:ya,
    showline:true, linecolor:"#000", linewidth:1, ticks:"outside", ticklen:4, tickwidth:1, tickcolor:"#000",
    tickvals:xTickVals, tickformat:".1f", tickfont:{size:14, color:"#000", family:FONT}, ticklabelstandoff:-6,
    showgrid:false, zeroline:false, fixedrange:true};
  layout["yaxis"+n] = {domain:[1-rowPx[r][1]/H, 1-rowPx[r][0]/H], range:rowRanges[r], anchor:xa,
    showline:true, linecolor:"#000", linewidth:1, ticks:"outside", ticklen:4, tickwidth:1, tickcolor:"#000",
    tickvals:yTickVals, tickfont:{size:14, color:"#000", family:FONT}, ticklabelstandoff:-3,
    showgrid:false, zeroline:false, fixedrange:true};

  layout.annotations.push({text:panelTitles[i], xref:"paper", yref:"paper", x:colPx[c][0]/W, y:1-titleYPx[r]/H,
    xanchor:"left", yanchor:"middle", showarrow:false, font:{size:17, color:"#000", family:FONT}});
  layout.annotations.push({text:xTitle, xref:"paper", yref:"paper", x:xTitleXPx[c]/W, y:1-xTitleYPx[r]/H,
    xanchor:"center", yanchor:"middle", showarrow:false, font:{size:13.5, color:"#000", family:FONT}});
  layout.annotations.push({text:yTitle, xref:"paper", yref:"paper", x:yTitleXPx[c]/W, y:1-((rowPx[r][0]+rowPx[r][1])/2)/H,
    xanchor:"center", yanchor:"middle", textangle:-90, showarrow:false, font:{size:13.5, color:"#000", family:FONT}});
}

Plotly.newPlot("chart", traces, layout, {displayModeBar:false, staticPlot:true});
</script>
</body></html>
